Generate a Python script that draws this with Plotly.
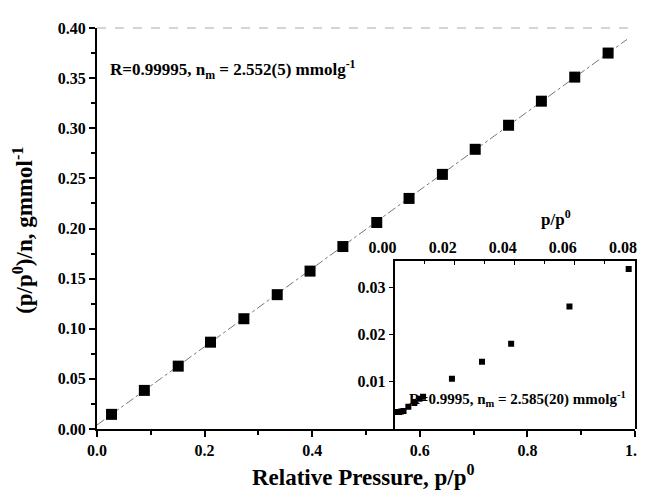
import plotly.graph_objects as go

# main BET plot: (p/p0)/n vs relative pressure
p_rel = [0.027, 0.088, 0.151, 0.211, 0.273, 0.335, 0.396, 0.457,
         0.520, 0.580, 0.642, 0.703, 0.765, 0.826, 0.888, 0.950]
bet_y = [0.0146, 0.0385, 0.0627, 0.0866, 0.110, 0.134, 0.1575, 0.182,
         0.206, 0.230, 0.254, 0.279, 0.303, 0.327, 0.351, 0.375]

# linear fit drawn through the main data
fit_x = [0.0, 0.985]
fit_y = [0.004, 0.3886]

# inset: low pressure region
ins_x = [0.0006, 0.0015, 0.0022, 0.0030, 0.0046, 0.0066, 0.0083, 0.0095,
         0.0191, 0.0291, 0.0388, 0.0582, 0.0779]
ins_y = [0.0036, 0.0036, 0.0037, 0.0038, 0.0047, 0.0055, 0.0064, 0.0068,
         0.0106, 0.0142, 0.0180, 0.0259, 0.0338]

FONT = "Liberation Serif"
TICKFONT = dict(family=FONT, size=16, color="black", weight="bold")

fig = go.Figure()

fig.add_trace(go.Scatter(
    x=fit_x, y=fit_y, mode="lines",
    line=dict(color="#777", width=1, dash="dashdot"),
    showlegend=False, hoverinfo="skip",
))
fig.add_trace(go.Scatter(
    x=p_rel, y=bet_y, mode="markers",
    marker=dict(symbol="square", size=11, color="black"),
    showlegend=False,
))
fig.add_trace(go.Scatter(
    x=ins_x, y=ins_y, mode="markers", xaxis="x2", yaxis="y2",
    marker=dict(symbol="square", size=6, color="black"),
    showlegend=False,
))

fig.update_layout(
    width=645, height=494,
    margin=dict(l=89, r=8, t=20, b=73),
    paper_bgcolor="white", plot_bgcolor="white",
    xaxis=dict(
        domain=[0, 1], range=[0, 1.0], dtick=0.2, tickformat=".1f",
        showgrid=False, zeroline=False, showline=True, linecolor="black",
        linewidth=2, ticks="outside", ticklen=6, tickwidth=1.5,
        tickcolor="black", tickfont=TICKFONT,
        minor=dict(dtick=0.1, ticks="outside", ticklen=4, tickcolor="black"),
    ),
    yaxis=dict(
        domain=[0, 1], range=[0, 0.40], dtick=0.05, tickformat=".2f",
        showgrid=False, zeroline=False, showline=True, linecolor="black",
        linewidth=2, ticks="outside", ticklen=6, tickwidth=1.5,
        tickcolor="black", tickfont=TICKFONT,
        minor=dict(dtick=0.025, ticks="outside", ticklen=4, tickcolor="black"),
    ),
    xaxis2=dict(
        domain=[0.553, 1.0], anchor="y2", side="top", range=[0, 0.08],
        dtick=0.02, tickformat=".2f", showgrid=False, zeroline=False,
        showline=True, linecolor="black", linewidth=1.5,
        ticks="inside", ticklen=4, tickcolor="black", tickfont=TICKFONT,
        ticklabelshift=-12,
        minor=dict(dtick=0.01, ticks="inside", ticklen=3, tickcolor="black"),
    ),
    yaxis2=dict(
        domain=[0, 0.419], anchor="x2", range=[0, 0.0355],
        tickvals=[0.01, 0.02, 0.03], ticktext=["0.01", "0.02", "0.03"],
        showgrid=False, zeroline=False, showline=True, mirror=True,
        linecolor="black", linewidth=1.5, ticks="outside", ticklen=4,
        tickcolor="black", tickfont=TICKFONT,
    ),
)

# faint top frame of the main plot
fig.add_shape(type="line", xref="paper", yref="paper", x0=0, x1=1,
              y0=1, y1=1, line=dict(color="#aaa", width=1, dash="dash"))

fig.add_annotation(
    xref="paper", yref="paper", x=0.495, y=-0.117,
    xanchor="center", yanchor="middle",
    text="Relative Pressure, p/p<sup>0</sup>", showarrow=False,
    font=dict(family=FONT, size=23, color="black", weight="bold"),
)
fig.add_annotation(
    xref="paper", yref="paper", x=-0.138, y=0.496, textangle=-90,
    xanchor="center", yanchor="middle",
    text="(p/p<sup>0</sup>)/n, gmmol<sup>-1</sup>", showarrow=False,
    font=dict(family=FONT, size=23, color="black", weight="bold"),
)
fig.add_annotation(
    xref="x2", yref="paper", x=0.0536, y=0.525, xanchor="center",
    text="p/p<sup>0</sup>", showarrow=False,
    font=dict(family=FONT, size=17, color="black", weight="bold"),
)
fig.add_annotation(
    xref="paper", yref="paper", x=0.02, y=0.933, xanchor="left",
    text="R=0.99995, n<sub>m</sub> = 2.552(5) mmolg<sup>-1</sup>",
    showarrow=False,
    font=dict(family=FONT, size=17, color="black", weight="bold"),
)
fig.add_annotation(
    xref="x2", yref="paper", x=0.004, y=0.045, xanchor="left",
    text="R=0.9995, n<sub>m</sub> = 2.585(20) mmolg<sup>-1</sup>",
    showarrow=False,
    font=dict(family=FONT, size=15, color="black", weight="bold"),
)

fig.write_html("out.html")
